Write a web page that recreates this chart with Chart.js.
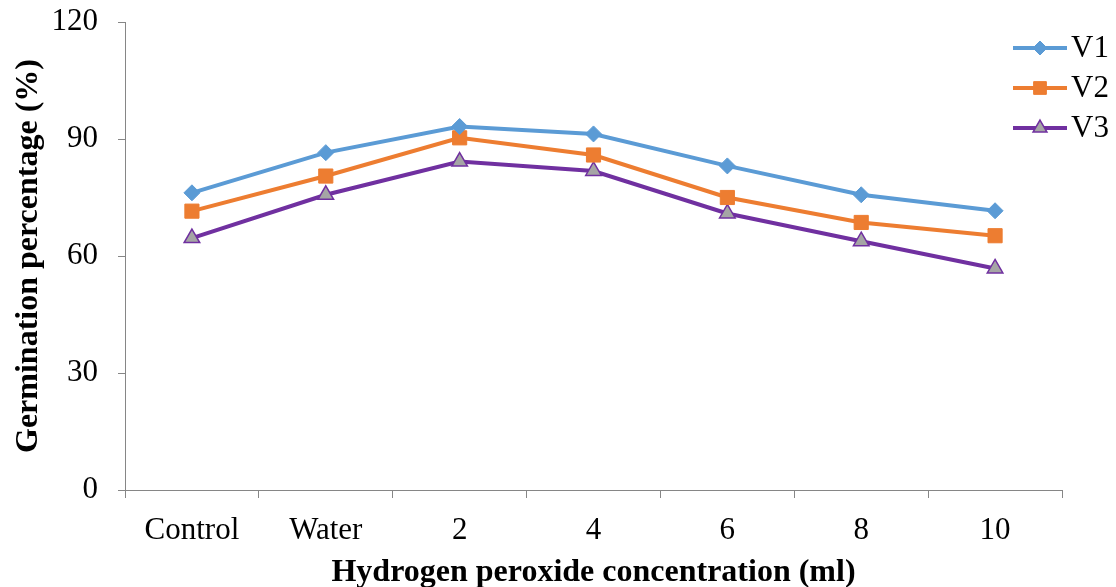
<!DOCTYPE html>
<html>
<head>
<meta charset="utf-8">
<script src="https://cdn.jsdelivr.net/npm/chart.js@4.4.1/dist/chart.umd.min.js"></script>
<style>
  html, body { margin: 0; padding: 0; background: #fff; }
  #wrap { width: 1116px; height: 587px; }
</style>
</head>
<body>
<div id="wrap"><canvas id="germChart" width="1116" height="587"></canvas></div>
<script>
// categories and series
const concentrations = ['Control', 'Water', '2', '4', '6', '8', '10'];
const v1Values = [76.2, 86.5, 93.2, 91.3, 83.1, 75.7, 71.6];
const v2Values = [71.5, 80.5, 90.3, 85.9, 75.0, 68.6, 65.2];
const v3Values = [64.6, 75.7, 84.2, 81.8, 70.9, 63.8, 56.8];
const yTicks = [0, 30, 60, 90, 120];

const serif = "'Liberation Serif', 'Times New Roman', serif";

// legend drawn by hand so the line passes through the marker like the original
const sideLegend = {
  id: 'sideLegend',
  afterDraw(chart) {
    const ctx = chart.ctx;
    chart.data.datasets.forEach((ds, i) => {
      const y = 48 + i * 40;
      ctx.save();
      ctx.strokeStyle = ds.borderColor;
      ctx.lineWidth = ds.borderWidth;
      ctx.beginPath();
      ctx.moveTo(1013, y);
      ctx.lineTo(1067, y);
      ctx.stroke();
      ctx.fillStyle = ds.pointBackgroundColor;
      ctx.strokeStyle = ds.pointBorderColor;
      ctx.lineWidth = ds.pointBorderWidth;
      Chart.helpers.drawPoint(ctx, {
        pointStyle: ds.pointStyle,
        radius: ds.pointRadius - 1,
        borderWidth: ds.pointBorderWidth
      }, 1040, y);
      ctx.fillStyle = '#000';
      ctx.font = '31px ' + serif;
      ctx.textBaseline = 'middle';
      ctx.fillText(ds.label, 1071, y + 1);
      ctx.restore();
    });
  }
};

new Chart(document.getElementById('germChart'), {
  type: 'line',
  data: {
    labels: concentrations,
    datasets: [
      { label: 'V1', data: v1Values, borderColor: '#5B9BD5', borderWidth: 4,
        pointStyle: 'rectRot', pointRadius: 8, pointBackgroundColor: '#5B9BD5', pointBorderColor: '#5B9BD5', pointBorderWidth: 1 },
      { label: 'V2', data: v2Values, borderColor: '#ED7D31', borderWidth: 4,
        pointStyle: 'rect', pointRadius: 10, pointBackgroundColor: '#ED7D31', pointBorderColor: '#ED7D31', pointBorderWidth: 1 },
      { label: 'V3', data: v3Values, borderColor: '#7030A0', borderWidth: 4,
        pointStyle: 'triangle', pointRadius: 9, pointBackgroundColor: '#A5A5A5', pointBorderColor: '#7030A0', pointBorderWidth: 1.5 }
    ]
  },
  options: {
    responsive: false,
    animation: false,
    layout: { padding: { top: 22, right: 54, left: 0, bottom: 0 } },
    plugins: { legend: { display: false }, tooltip: { enabled: false } },
    elements: { line: { tension: 0 } },
    scales: {
      x: {
        offset: true,
        grid: { drawOnChartArea: false, tickLength: 8, color: '#868686', offset: true },
        border: { color: '#868686', width: 1 },
        ticks: { color: '#000', font: { family: serif, size: 31 }, padding: 14, maxRotation: 0 },
        title: { display: true, text: 'Hydrogen peroxide concentration (ml)', color: '#000',
                 font: { family: serif, size: 32, weight: 'bold' }, padding: { top: 0, bottom: -5 } },
        afterFit(scale) { scale.height = 97; }
      },
      y: {
        min: 0, max: 120,
        afterBuildTicks(scale) { scale.ticks = yTicks.map(v => ({ value: v })); },
        grid: { drawOnChartArea: false, tickLength: 7, color: '#868686' },
        border: { color: '#868686', width: 1 },
        ticks: { color: '#000', font: { family: serif, size: 31 }, padding: 20 },
        title: { display: true, text: 'Germination percentage (%)', color: '#000',
                 font: { family: serif, size: 32, weight: 'bold' }, padding: { top: 10, bottom: 0 } },
        afterFit(scale) {
          scale.width = 125;
          // tick padding otherwise pushes the plot top down
          scale.paddingTop = 0;
          scale.paddingBottom = 0;
        }
      }
    }
  },
  plugins: [sideLegend]
});
</script>
</body>
</html>
